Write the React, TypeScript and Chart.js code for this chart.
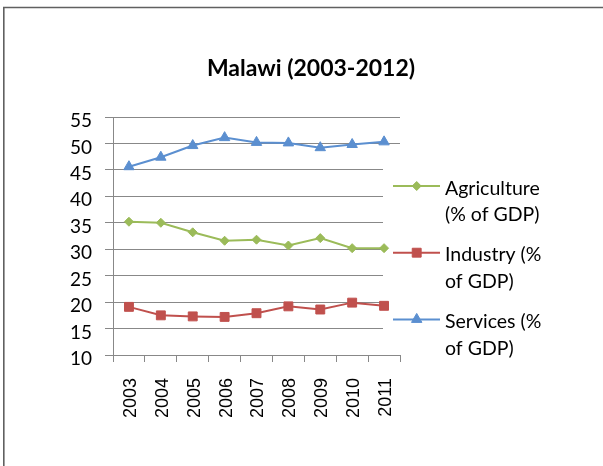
import React, { useEffect, useRef } from "react";
import { Chart, registerables } from "chart.js";
import { drawPoint } from "chart.js/helpers";

Chart.register(...registerables);

const TITLE = "Malawi (2003-2012)";
const years = ["2003", "2004", "2005", "2006", "2007", "2008", "2009", "2010", "2011"];
const agriculture = [35.2, 35.0, 33.2, 31.6, 31.8, 30.7, 32.1, 30.2, 30.2];
const industry = [19.1, 17.5, 17.3, 17.2, 17.9, 19.2, 18.6, 19.9, 19.3];
const services = [45.6, 47.4, 49.6, 51.1, 50.2, 50.1, 49.2, 49.8, 50.3];
const seriesNames = ["Agriculture (% of GDP)", "Industry (% of GDP)", "Services (% of GDP)"];
const legendLines = [
  ["Agriculture", "(% of GDP)"],
  ["Industry (%", "of GDP)"],
  ["Services (%", "of GDP)"],
];
const Y_MIN = 10;
const Y_MAX = 55;
const Y_STEP = 5;

const GREEN = "#9BBB59";
const RED = "#C0504D";
const BLUE = "#5B8FD0";
const GRID = "#888888";
const FONT = "Lato, 'Open Sans', sans-serif";

const decor = {
  id: "decor",
  beforeDraw(chart: any) {
    const ctx = chart.ctx;
    ctx.save();
    ctx.fillStyle = "#ffffff";
    ctx.fillRect(0, 0, chart.width, chart.height);
    ctx.strokeStyle = "#606060";
    ctx.lineWidth = 1.6;
    ctx.beginPath();
    ctx.moveTo(3.8, chart.height);
    ctx.lineTo(3.8, 7.5);
    ctx.lineTo(chart.width, 7.5);
    ctx.stroke();
    ctx.restore();
  },
  beforeDatasetsDraw(chart: any) {
    const ctx = chart.ctx;
    ctx.save();
    ctx.fillStyle = "#ffffff";
    ctx.fillRect(383, 152, 220, 199);
    ctx.restore();
  },
  afterDraw(chart: any) {
    const ctx = chart.ctx;
    ctx.save();
    ctx.fillStyle = "#000";
    ctx.textAlign = "center";
    ctx.textBaseline = "middle";
    ctx.font = "bold 23px " + FONT;
    ctx.fillText(TITLE, 311, 69);

    ctx.textAlign = "left";
    ctx.font = "19.5px " + FONT;
    chart.data.datasets.forEach((ds: any, i: number) => {
      const y = 186 + i * 66.7;
      ctx.strokeStyle = ds.borderColor;
      ctx.lineWidth = 2;
      ctx.beginPath();
      ctx.moveTo(393, y);
      ctx.lineTo(440, y);
      ctx.stroke();
      ctx.fillStyle = ds.backgroundColor;
      ctx.strokeStyle = ds.borderColor;
      ctx.lineWidth = 1;
      drawPoint(ctx, { pointStyle: ds.pointStyle, radius: ds.pointRadius, rotation: 0, borderWidth: 1 }, 416.7, y);
      ctx.fillStyle = "#000";
      const lines = legendLines[i];
      lines.forEach((t, k) => ctx.fillText(t, 445, y + 2.5 + k * 26.5));
    });
    ctx.restore();
  },
};

export default function App() {
  const ref = useRef<HTMLCanvasElement>(null);
  useEffect(() => {
    const mk = (label: string, data: number[], color: string, style: string, r: number) => ({
      label,
      data,
      borderColor: color,
      backgroundColor: color,
      borderWidth: 2,
      pointStyle: style,
      pointRadius: r,
      pointBorderWidth: 1,
      tension: 0,
    });
    const chart = new Chart(ref.current!, {
      type: "line",
      data: {
        labels: years,
        datasets: [
          mk(seriesNames[0], agriculture, GREEN, "rectRot", 4.5),
          mk(seriesNames[1], industry, RED, "rect", 6.3),
          mk(seriesNames[2], services, BLUE, "triangle", 6),
        ],
      },
      options: {
        animation: false,
        responsive: false,
        devicePixelRatio: 1,
        layout: { padding: { left: 0, top: 117, right: 203, bottom: 0 } },
        plugins: { legend: { display: false }, title: { display: false }, tooltip: { enabled: false } },
        scales: {
          x: {
            offset: true,
            grid: { offset: true, drawOnChartArea: false, drawTicks: true, tickLength: 7, color: GRID },
            border: { color: GRID, width: 1 },
            ticks: {
              minRotation: 90,
              maxRotation: 90,
              padding: 16,
              labelOffset: 2,
              color: "#000",
              font: { family: "'Liberation Sans', Arial, sans-serif", size: 18 },
            },
            afterFit: (s: any) => {
              s.height = 111;
            },
          },
          y: {
            min: Y_MIN,
            max: Y_MAX,
            ticks: {
              stepSize: Y_STEP,
              padding: 13,
              labelOffset: 4,
              color: "#000",
              font: { family: FONT, size: 19 },
            },
            grid: { color: GRID, tickLength: 8 },
            border: { color: GRID, width: 1 },
            afterFit: (s: any) => {
              s.width = 113;
            },
          },
        },
      },
      plugins: [decor],
    } as any);
    return () => chart.destroy();
  }, []);
  return (
    <div style={{ position: "absolute", left: 0, top: 0, width: 603, height: 466, background: "#fff" }}>
      <canvas ref={ref} width={603} height={466} style={{ display: "block" }} />
    </div>
  );
}
